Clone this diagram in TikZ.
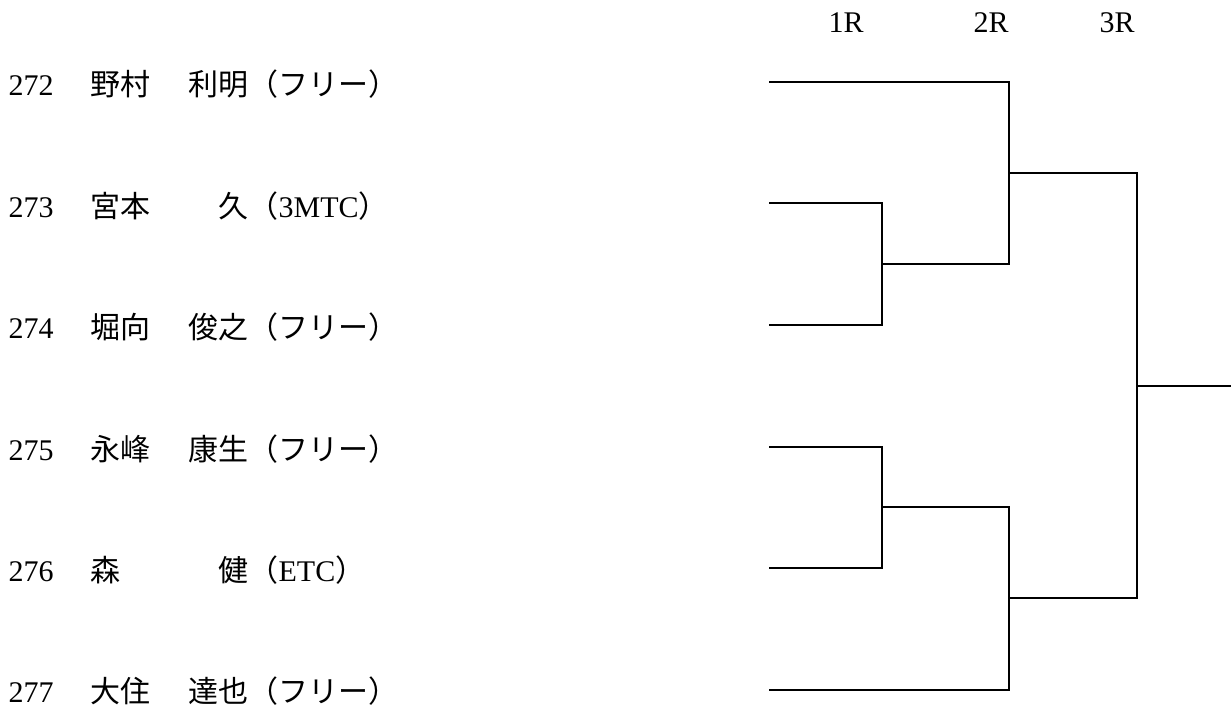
\documentclass[tikz,border=0pt]{standalone}
\usepackage{fontspec}
\setmainfont{Liberation Serif}
\newfontfamily\jp{Noto Sans CJK JP}
\usepackage{tikz}
\newcommand{\player}[4]{\makebox[82pt][l]{#1}\makebox[85pt][l]{\jp #2}\makebox[73pt][r]{\jp #3}#4}
\newcommand{\club}[1]{{\jp （}#1{\jp ）}}

\begin{document}
\begin{tikzpicture}[x=1pt,y=-1pt,line width=1.3pt,font=\fontsize{30}{36}\selectfont,
  plyr/.style={anchor=base west,inner sep=0pt},rnd/.style={anchor=base,inner sep=0pt}]
\useasboundingbox (0,0) rectangle (1231,706);
% rounds
\node[rnd] (r1) at (846,33) {1R};\node[rnd] (r2) at (991,33) {2R};\node[rnd] (r3) at (1117,33) {3R};
% players
\node[plyr] (n1) at (8,96) {\player{272}{野村}{利明}{\club{\jp フリー}}};
\node[plyr] (n2) at (8,217) {\player{273}{宮本}{久}{\club{3MTC}}};
\node[plyr] (n3) at (8,338) {\player{274}{堀向}{俊之}{\club{\jp フリー}}};
\node[plyr] (n4) at (8,460) {\player{275}{永峰}{康生}{\club{\jp フリー}}};
\node[plyr] (n5) at (8,581) {\player{276}{森}{健}{\club{ETC}}};
\node[plyr] (n6) at (8,702) {\player{277}{大住}{達也}{\club{\jp フリー}}};
% bracket
\coordinate (s1) at (769,82);\coordinate (s2) at (769,203);\coordinate (s3) at (769,325);
\coordinate (s4) at (769,447);\coordinate (s5) at (769,568);\coordinate (s6) at (769,690);
\coordinate (a1) at (882,264);\coordinate (a2) at (882,507);
\coordinate (b1) at (1009,173);\coordinate (b2) at (1009,598);
\coordinate (c) at (1137,386);\coordinate (w) at (1231,386);
\draw (s2) -| (a1) |- (s3);\draw (s4) -| (a2) |- (s5);
\draw (s1) -| (b1) |- (a1);\draw (s6) -| (b2) |- (a2);
\draw (b1) -| (c) |- (b2);\draw (c) -- (w);
\end{tikzpicture}
\end{document}
